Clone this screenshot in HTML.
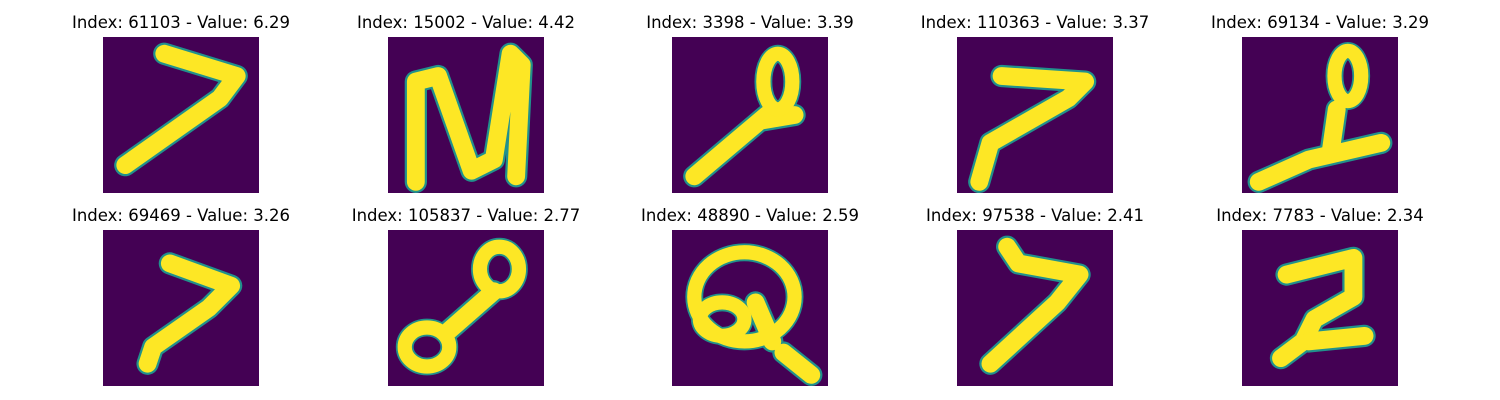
<!DOCTYPE html>
<html><head><meta charset="utf-8"><style>
html,body{margin:0;padding:0;background:#fff;width:1500px;height:400px;overflow:hidden}
svg{display:block}
text{font-family:"DejaVu Sans","Liberation Sans",sans-serif;font-size:16.5px;fill:#000}
</style></head><body>
<svg id="fig" width="1500" height="400"></svg>
<script>
const indices=[61103,15002,3398,110363,69134,69469,105837,48890,97538,7783];
const values=["6.29","4.42","3.39","3.37","3.29","3.26","2.77","2.59","2.41","2.34"];
const strokes=[
 [[[11,3],[24,7],[21,11],[4,23]]],
 [[[5,26],[5,8],[9,7],[15,24],[19,22],[22,3],[24,5],[23,25]]],
 [[[4,25],[17,14]],[[16,15],[22,14]]],
 [[[8,7],[23,8],[20,11],[6,19],[4,26]]],
 [[[3,26],[12,22],[25,19]],[[17,13],[16,20]]],
 [[[12,6],[23,10],[19,14],[9,21],[8,24]]],
 [[[19,11],[11,18]]],
 [[[20,22],[25,26]],[[15,13],[18,20]]],
 [[[9,3],[11,6],[22,8],[18,13],[6,24]]],
 [[[8,8],[20,5],[20,12],[13,16],[11,20],[7,23]],[[12,20],[22,19]]]
];
const loops=[[],[],[[19,8,2.6,5]],[],[[19,7,2.4,4.5]],[],[[20,7,3.5,4],[7,21,4,3.5]],[[13,12,9,8],[9,16,4,3]],[],[]];
const svg=document.getElementById('fig');
const NS='http://www.w3.org/2000/svg';
const colX=[103,388,672,957,1242],rowY=[37,230],S=156/28;
for(let i=0;i<10;i++){
 const x0=colX[i%5],y0=rowY[Math.floor(i/5)];
 const g=document.createElementNS(NS,'g');
 
 
 const t=document.createElementNS(NS,'text');
 
 
 t.setAttribute('x',x0+78);t.setAttribute('y',y0-9);t.setAttribute('text-anchor','middle');
 t.textContent='Index: '+indices[i]+' - Value: '+values[i];
 g.appendChild(t);
 const img=document.createElementNS(NS,'g');
 
 
 img.setAttribute('transform','translate('+x0+','+y0+') scale('+S+')');
 const bg=document.createElementNS(NS,'rect');
 
 
 bg.setAttribute('width',28);bg.setAttribute('height',28);bg.setAttribute('fill','#440154');
 img.appendChild(bg);
 [['#21918c',4.0],['#fde725',3.2]].forEach(([c,w])=>{
  strokes[i].forEach(p=>{
   const pl=document.createElementNS(NS,'polyline');
   
   
   pl.setAttribute('points',p.map(q=>q.join(',')).join(' '));
   pl.setAttribute('fill','none');pl.setAttribute('stroke',c);pl.setAttribute('stroke-width',w);
   pl.setAttribute('stroke-linecap','round');pl.setAttribute('stroke-linejoin','round');
   img.appendChild(pl);
  });
  loops[i].forEach(l=>{
   const e=document.createElementNS(NS,'ellipse');
   
   
   e.setAttribute('cx',l[0]);e.setAttribute('cy',l[1]);e.setAttribute('rx',l[2]);e.setAttribute('ry',l[3]);
   e.setAttribute('fill','none');e.setAttribute('stroke',c);e.setAttribute('stroke-width',w*0.8);
   img.appendChild(e);
  });
 });
 g.appendChild(img);
 svg.appendChild(g);
}
</script>
</body></html>
